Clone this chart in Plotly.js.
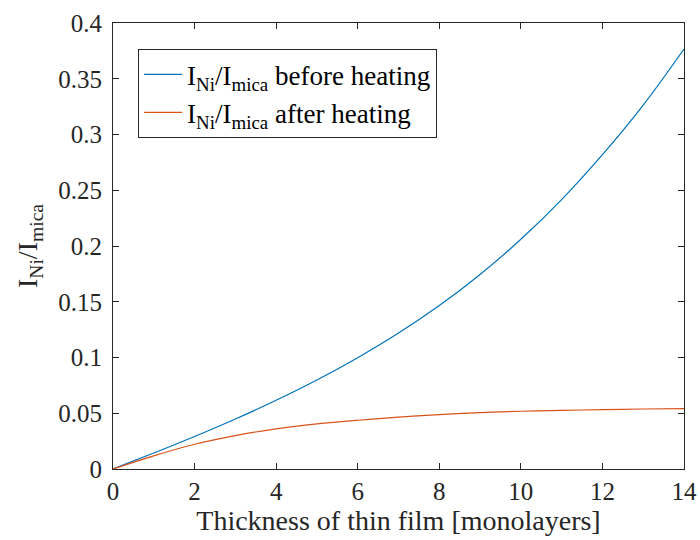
<!DOCTYPE html>
<html>
<head>
<meta charset="utf-8">
<script src="https://cdn.plot.ly/plotly-3.0.1.min.js"></script>
<style>html,body{margin:0;padding:0;background:#fff;}#chart{width:700px;height:540px;}</style>
</head>
<body>
<div id="chart"></div>
<script>
const thickness = [0, 1, 2, 3, 4, 5, 6, 7, 8, 9, 10, 11, 12, 13, 14];
const beforeHeating = [0, 0.0143, 0.0291, 0.0448, 0.0616, 0.0798, 0.0998, 0.1219, 0.1466, 0.1745, 0.2060, 0.2416, 0.2819, 0.3264, 0.3767];
const afterHeating = [0, 0.0118, 0.0222, 0.0300, 0.0360, 0.0404, 0.0437, 0.0465, 0.0488, 0.0505, 0.0518, 0.0526, 0.0532, 0.0538, 0.0542];
const seriesNames = ['I<sub>Ni</sub>/I<sub>mica</sub> before heating', 'I<sub>Ni</sub>/I<sub>mica</sub> after heating'];
const xTicks = [0, 2, 4, 6, 8, 10, 12, 14];
const yTicks = [0, 0.05, 0.1, 0.15, 0.2, 0.25, 0.3, 0.35, 0.4];
const yTickText = ['0', '0.05', '0.1', '0.15', '0.2', '0.25', '0.3', '0.35', '0.4'];

const FONT = 'Liberation Serif, Times New Roman, serif';
const traces = [
  {x: thickness, y: beforeHeating, name: seriesNames[0], type: 'scatter', mode: 'lines',
   line: {color: '#0072BD', width: 1.2, shape: 'spline', smoothing: 1}},
  {x: thickness, y: afterHeating, name: seriesNames[1], type: 'scatter', mode: 'lines',
   line: {color: '#D95319', width: 1.2, shape: 'spline', smoothing: 1}}
];
const axisCommon = {
  showgrid: false, zeroline: false, showline: true, mirror: 'allticks',
  linecolor: '#262626', linewidth: 1, ticks: 'inside', ticklen: 6, tickwidth: 1,
  tickcolor: '#262626', tickfont: {family: FONT, size: 25, color: '#262626'}
};
const layout = {
  width: 700, height: 540,
  margin: {l: 113, r: 16, t: 23, b: 71},
  paper_bgcolor: '#ffffff', plot_bgcolor: '#ffffff',
  showlegend: true,
  legend: {x: 0.044, y: 0.941, xanchor: 'left', yanchor: 'top',
    bordercolor: '#262626', borderwidth: 1, bgcolor: '#ffffff', itemwidth: 38,
    font: {family: FONT, size: 27, color: '#000000'}, tracegroupgap: 0},
  xaxis: Object.assign({}, axisCommon, {range: [0, 14], tickvals: xTicks, ticktext: xTicks.map(String),
    title: {text: 'Thickness of thin film [monolayers]', font: {family: FONT, size: 28, color: '#262626'}, standoff: 2}}),
  yaxis: Object.assign({}, axisCommon, {range: [0, 0.4], tickvals: yTicks, ticktext: yTickText, ticklabelstandoff: 5,
    title: {text: 'I<sub>Ni</sub>/I<sub>mica</sub>', font: {family: FONT, size: 28, color: '#262626'}, standoff: 12}})
};
Plotly.newPlot('chart', traces, layout, {displayModeBar: false, staticPlot: true});
</script>
</body>
</html>
